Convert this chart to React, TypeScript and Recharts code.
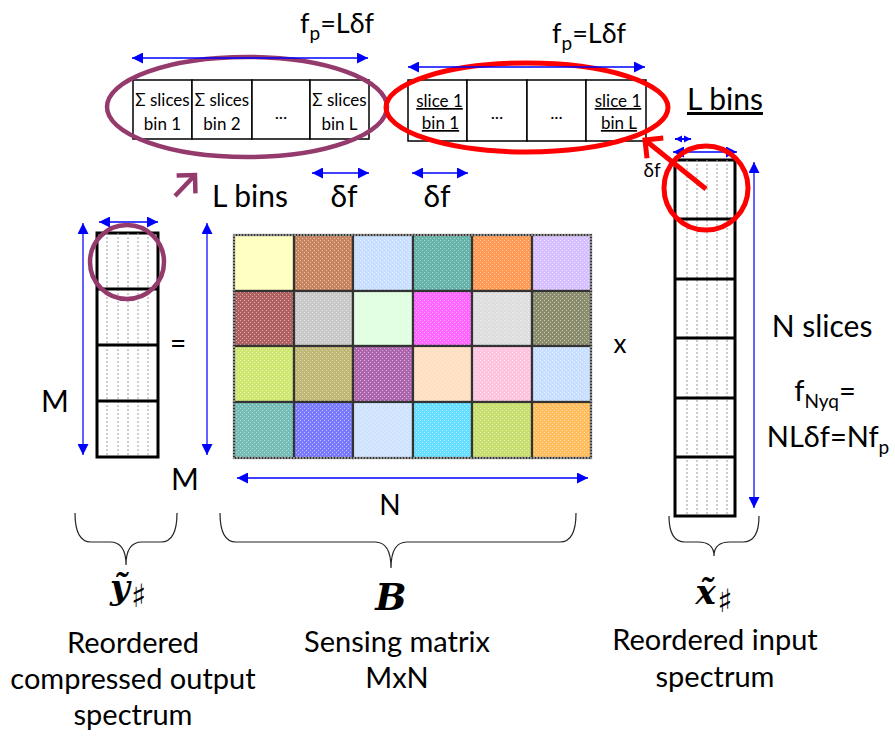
import React from "react";
import {
  ComposedChart,
  XAxis,
  YAxis,
  ReferenceArea,
  ReferenceLine,
  ReferenceDot,
} from "recharts";

const FONT = "Lato, 'Open Sans', sans-serif";
const MATH = "'DejaVu Serif', 'Liberation Serif', serif";
const BLUE = "#0000ff";
const BLUE_V = "#3b3bff";
const PURPLE = "#953a6c";
const RED = "#ff0000";

// top boxes: compressed (Σ) bins and one input slice
const sumLine1 = ["Σ slices", "Σ slices", "", "Σ slices"];
const sumLine2 = ["bin 1", "bin 2", "", "bin L"];
const sliceLine1 = ["slice 1", "", "", "slice 1"];
const sliceLine2 = ["bin 1", "", "", "bin L"];

// sensing matrix B, 4 rows (M) x 6 columns (N)
const matrixColors = [
  ["#ffffbe", "#c6855f", "#c9dfff", "#66b3aa", "#ff9a55", "#d7c0ff"],
  ["#b06060", "#c8c8c8", "#e0ffe0", "#ff66ff", "#dedede", "#8c8c6e"],
  ["#cfe670", "#bfb774", "#ad66ad", "#ffdfc2", "#ffc4e0", "#c9dfff"],
  ["#74bcb5", "#7a7aff", "#cfe3ff", "#66deff", "#c8df70", "#ffbd5e"],
];

// captions under the braces
const outCaption = ["Reordered", "compressed output", "spectrum"];
const matCaption = ["Sensing matrix", "MxN"];
const inCaption = ["Reordered  input", "spectrum"];

// layout (pixels == axis units)
const SUM_X = [133, 192, 252, 310, 369];
const SUM_Y = [80, 139];
const SLICE_X = [408, 467, 527, 586, 646];
const SLICE_Y = [80, 141];
const MAT_X = [234, 294, 353, 413, 472, 532, 591];
const MAT_Y = [235, 291, 346, 402, 458];
const YCOL = { x: [97, 158], y: [233, 289, 345, 401, 457], dots: [107, 118, 128, 138, 148] };
const XCOL = { x: [675, 735], y: [160, 219, 279, 338, 398, 457, 516], dots: [687, 697, 707, 717, 727] };

type Seg = [number, number, number, number, string, string];
const arrows: Seg[] = [
  [132, 58, 368, 58, BLUE, "big"],
  [408, 67, 645, 67, BLUE, "big"],
  [312, 173, 369, 173, BLUE, "big"],
  [412, 173, 468, 173, BLUE, "big"],
  [675, 139, 691, 139, BLUE, "small"],
  [673, 152, 737, 152, BLUE, "big"],
  [99, 222, 158, 222, BLUE, "big"],
  [83, 223, 83, 455, BLUE_V, "big"],
  [207, 223, 207, 455, BLUE_V, "big"],
  [237, 478, 588, 478, BLUE, "big"],
  [754, 162, 754, 508, BLUE_V, "big"],
];

const braces = [
  { x0: 75, x1: 177, top: 513, mid: 542, tip: 565, tx: 126 },
  { x0: 220, x1: 576, top: 513, mid: 542, tip: 568, tx: 391 },
  { x0: 669, x1: 759, top: 516, mid: 542, tip: 556, tx: 714 },
];

const mid = (a: number[], i: number) => (a[i] + a[i + 1]) / 2;

function txt(
  key: string,
  x: number,
  y: number,
  content: React.ReactNode,
  size = 29,
  anchor: "start" | "middle" | "end" = "middle",
  extra: Record<string, unknown> = {}
) {
  return (
    <ReferenceDot
      key={key}
      x={x}
      y={y}
      r={0}
      shape={(p: any) => (
        <text
          x={p.cx}
          y={p.cy}
          textAnchor={anchor}
          fontSize={size}
          fontFamily={FONT}
          fill="#000"
          {...extra}
        >
          {content}
        </text>
      )}
    />
  );
}

function column(prefix: string, col: typeof YCOL) {
  const out: React.ReactNode[] = [];
  col.dots.forEach((dx, i) =>
    out.push(
      <ReferenceLine
        key={`${prefix}d${i}`}
        segment={[
          { x: dx, y: col.y[0] },
          { x: dx, y: col.y[col.y.length - 1] },
        ]}
        stroke="#9a9a9a"
        strokeWidth={1}
        strokeDasharray="2 2"
      />
    )
  );
  col.y.slice(1, -1).forEach((yy, i) =>
    out.push(
      <ReferenceLine
        key={`${prefix}h${i}`}
        segment={[
          { x: col.x[0], y: yy },
          { x: col.x[1], y: yy },
        ]}
        stroke="#000"
        strokeWidth={3}
      />
    )
  );
  out.push(
    <ReferenceArea
      key={`${prefix}box`}
      x1={col.x[0]}
      x2={col.x[1]}
      y1={col.y[0]}
      y2={col.y[col.y.length - 1]}
      fill="none"
      stroke="#000"
      strokeWidth={3}
    />
  );
  return out;
}

function cellBox(prefix: string, xs: number[], ys: number[]) {
  const out: React.ReactNode[] = [];
  for (let i = 0; i < xs.length - 1; i++) {
    out.push(
      <ReferenceArea
        key={`${prefix}${i}`}
        x1={xs[i]}
        x2={xs[i + 1]}
        y1={ys[0]}
        y2={ys[1]}
        fill="#fff"
        fillOpacity={1}
        stroke="#000"
        strokeWidth={1.5}
      />
    );
  }
  return out;
}

const ellipseShape = (color: string, w: number) => (p: any) => (
  <ellipse
    cx={p.x + p.width / 2}
    cy={p.y + p.height / 2}
    rx={p.width / 2}
    ry={p.height / 2}
    fill="none"
    stroke={color}
    strokeWidth={w}
  />
);

// matrix cell with the dithered texture of the original picture
const ditherCell = (color: string) => (p: any) => (
  <g>
    <rect x={p.x} y={p.y} width={p.width} height={p.height} fill={color} />
    <rect x={p.x} y={p.y} width={p.width} height={p.height} fill="url(#dither)" />
    <rect
      x={p.x}
      y={p.y}
      width={p.width}
      height={p.height}
      fill="none"
      stroke="#333"
      strokeWidth={2.2}
    />
  </g>
);

const braceShape = (b: (typeof braces)[number]) => (p: any) => {
  const sx = p.width / (b.x1 - b.x0);
  const sy = p.height / (b.tip - b.top);
  const X = (v: number) => p.x + (v - b.x0) * sx;
  const Y = (v: number) => p.y + (v - b.top) * sy;
  const r = 16;
  const d = [
    `M${X(b.x0)},${Y(b.top)}`,
    `Q${X(b.x0)},${Y(b.mid)} ${X(b.x0 + r)},${Y(b.mid)}`,
    `L${X(b.tx - r)},${Y(b.mid)}`,
    `Q${X(b.tx)},${Y(b.mid)} ${X(b.tx)},${Y(b.tip)}`,
    `Q${X(b.tx)},${Y(b.mid)} ${X(b.tx + r)},${Y(b.mid)}`,
    `L${X(b.x1 - r)},${Y(b.mid)}`,
    `Q${X(b.x1)},${Y(b.mid)} ${X(b.x1)},${Y(b.top)}`,
  ].join(" ");
  return <path d={d} fill="none" stroke="#222" strokeWidth={1.2} />;
};

const mathStyle = { fontFamily: MATH, fontStyle: "italic", fontWeight: "bold" };

export default function App() {
  const sub = (s: string, size = 19) => (
    <tspan fontSize={size} dy={7}>
      {s}
    </tspan>
  );
  const sharp = (
    <tspan
      fontSize={32}
      dy={8}
      dx={1}
      fontStyle="normal"
      fontWeight="normal"
      fontFamily="'DejaVu Serif', serif"
    >
      ♯
    </tspan>
  );

  return (
    <div
      style={{
        position: "absolute",
        left: 0,
        top: 0,
        width: 895,
        height: 736,
        background: "#fff",
      }}
    >
      <ComposedChart
        width={895}
        height={736}
        margin={{ top: 0, right: 0, bottom: 0, left: 0 }}
      >
        <defs>
          <pattern id="dither" width="4" height="4" patternUnits="userSpaceOnUse">
            <rect x="0" y="0" width="1" height="1" fill="#fff" fillOpacity="0.5" />
            <rect x="2" y="2" width="1" height="1" fill="#fff" fillOpacity="0.5" />
          </pattern>
          <marker
            id="bigHead"
            viewBox="0 0 10 10"
            refX="10"
            refY="5"
            markerWidth="11"
            markerHeight="11"
            markerUnits="userSpaceOnUse"
            orient="auto-start-reverse"
          >
            <path d="M0,0 L10,5 L0,10 z" fill={BLUE} />
          </marker>
          <marker
            id="smallHead"
            viewBox="0 0 10 10"
            refX="10"
            refY="5"
            markerWidth="7"
            markerHeight="8"
            markerUnits="userSpaceOnUse"
            orient="auto-start-reverse"
          >
            <path d="M0,0 L10,5 L0,10 z" fill={BLUE} />
          </marker>
          <marker
            id="purpleHead"
            viewBox="0 0 40 40"
            refX="30"
            refY="20"
            markerWidth="40"
            markerHeight="40"
            markerUnits="userSpaceOnUse"
            orient="auto"
          >
            <path d="M17,7 L30,20 L17,33" fill="none" stroke={PURPLE} strokeWidth={4.5} />
          </marker>
          <marker
            id="redHead"
            viewBox="0 0 40 40"
            refX="30"
            refY="20"
            markerWidth="40"
            markerHeight="40"
            markerUnits="userSpaceOnUse"
            orient="auto"
          >
            <path d="M17,7 L30,20 L17,33" fill="none" stroke={RED} strokeWidth={5} />
          </marker>
        </defs>

        <XAxis type="number" dataKey="x" domain={[0, 895]} hide allowDataOverflow />
        <YAxis type="number" domain={[0, 736]} reversed hide allowDataOverflow />

        {/* top boxes */}
        {cellBox("sum", SUM_X, SUM_Y)}
        {cellBox("slc", SLICE_X, SLICE_Y)}
        {sumLine1.map((t, i) =>
          t
            ? txt(`s1${i}`, mid(SUM_X, i), 106, t, 17)
            : txt(`s1${i}`, mid(SUM_X, i), 119, "...", 18)
        )}
        {sumLine2.map((t, i) => (t ? txt(`s2${i}`, mid(SUM_X, i), 130, t, 17) : null))}
        {sliceLine1.map((t, i) =>
          t
            ? txt(`c1${i}`, mid(SLICE_X, i) + 2, 107, t, 17, "middle", {
                style: { textDecoration: "underline" },
              })
            : txt(`c1${i}`, mid(SLICE_X, i), 119, "...", 18)
        )}
        {sliceLine2.map((t, i) =>
          t
            ? txt(`c2${i}`, mid(SLICE_X, i) + 3, 129, t, 17, "middle", {
                style: { textDecoration: "underline" },
              })
            : null
        )}

        {/* sensing matrix */}
        {matrixColors.map((row, r) =>
          row.map((c, k) => (
            <ReferenceArea
              key={`m${r}-${k}`}
              x1={MAT_X[k]}
              x2={MAT_X[k + 1]}
              y1={MAT_Y[r]}
              y2={MAT_Y[r + 1]}
              shape={ditherCell(c)}
            />
          ))
        )}
        <ReferenceArea
          x1={MAT_X[0]}
          x2={MAT_X[MAT_X.length - 1]}
          y1={MAT_Y[0]}
          y2={MAT_Y[MAT_Y.length - 1]}
          fill="none"
          stroke="#8a8a8a"
          strokeWidth={2}
          strokeDasharray="2 1"
        />

        {/* vectors */}
        {column("y", YCOL)}
        {column("x", XCOL)}

        {/* blue dimension arrows */}
        {arrows.map(([x1, y1, x2, y2, c, kind], i) => (
          <ReferenceLine
            key={`a${i}`}
            segment={[
              { x: x1, y: y1 },
              { x: x2, y: y2 },
            ]}
            stroke={c}
            strokeWidth={kind === "small" ? 2 : 1.6}
            markerStart={`url(#${kind === "small" ? "smallHead" : "bigHead"})`}
            markerEnd={`url(#${kind === "small" ? "smallHead" : "bigHead"})`}
          />
        ))}

        {/* highlight ellipses / circles */}
        <ReferenceArea x1={107} x2={387} y1={57} y2={157} shape={ellipseShape(PURPLE, 4.5)} />
        <ReferenceArea x1={386} x2={668} y1={63} y2={152} shape={ellipseShape(RED, 5)} />
        <ReferenceDot x={127} y={262} r={37} fill="none" stroke={PURPLE} strokeWidth={4.5} />
        <ReferenceDot x={706} y={188} r={42} fill="none" stroke={RED} strokeWidth={5} />

        <ReferenceLine
          segment={[
            { x: 175, y: 196 },
            { x: 195, y: 175 },
          ]}
          stroke={PURPLE}
          strokeWidth={4.5}
          markerEnd="url(#purpleHead)"
        />
        <ReferenceLine
          segment={[
            { x: 706, y: 189 },
            { x: 645, y: 140 },
          ]}
          stroke={RED}
          strokeWidth={5}
          markerEnd="url(#redHead)"
        />

        {/* braces */}
        {braces.map((b, i) => (
          <ReferenceArea
            key={`b${i}`}
            x1={b.x0}
            x2={b.x1}
            y1={b.top}
            y2={b.tip}
            shape={braceShape(b)}
          />
        ))}

        {/* text labels */}
        {txt("fpL", 337, 33, <>f{sub("p")}<tspan dy={-7}>=Lδf</tspan></>, 27)}
        {txt("fpR", 589, 43, <>f{sub("p")}<tspan dy={-7}>=Lδf</tspan></>, 27)}
        {txt("lbinsL", 212, 207, "L bins", 30, "start")}
        {txt("dfL", 344, 207, "δf", 30)}
        {txt("dfR", 437, 207, "δf", 30)}
        {txt("lbinsR", 687, 110, "L bins", 30, "start", {
          style: { textDecoration: "underline" },
        })}
        {txt("dfS", 652, 177, "δf", 19)}
        {txt("eq", 178, 353, "=", 28)}
        {txt("mL", 55, 412, "M", 30)}
        {txt("mB", 185, 490, "M", 30)}
        {txt("nB", 390, 515, "N", 28)}
        {txt("times", 620, 353, "x", 26)}
        {txt("nsl", 822, 337, "N slices", 30)}
        {txt("fnyq", 825, 401, <>f{sub("Nyq")}<tspan dy={-7}>=</tspan></>, 29)}
        {txt("nlf", 828, 447, <>NLδf=Nf{sub("p")}</>, 29)}

        {txt("ymath", 128, 599, <>ỹ{sharp}</>, 34, "middle", mathStyle)}
        {txt("bmath", 391, 610, "B", 37, "middle", mathStyle)}
        {txt("xmath", 714, 604, <>x̃{sharp}</>, 34, "middle", mathStyle)}

        {outCaption.map((t, i) => txt(`oc${i}`, 133, 653 + i * 36, t, 29))}
        {matCaption.map((t, i) => txt(`mc${i}`, 397, 652 + i * 36, t, 29))}
        {inCaption.map((t, i) => txt(`ic${i}`, 715, 650 + i * 37, t, 29))}
      </ComposedChart>
    </div>
  );
}
